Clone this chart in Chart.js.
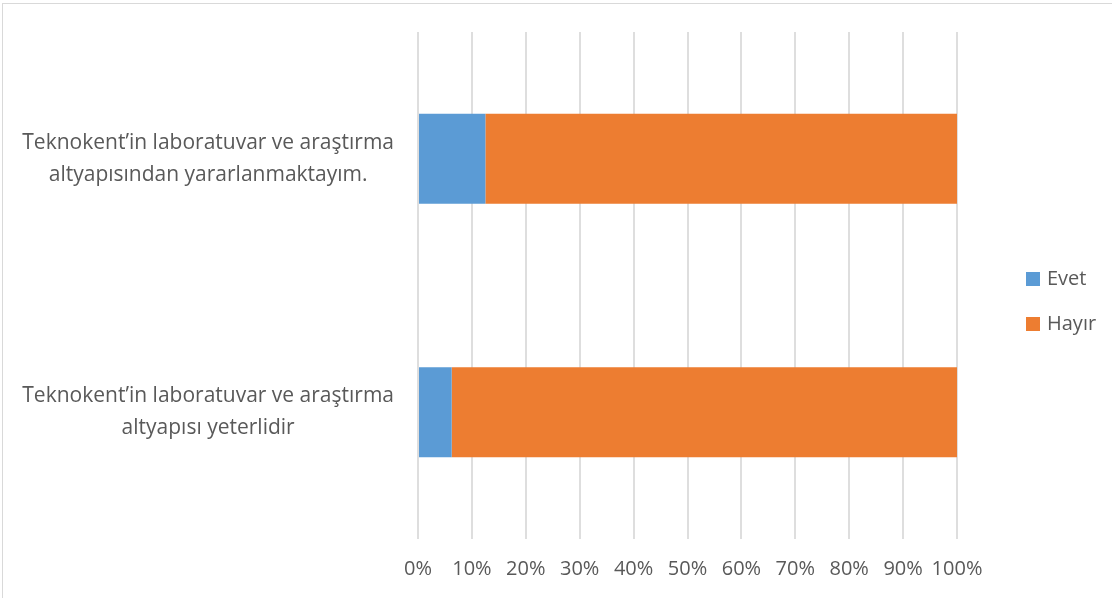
<!DOCTYPE html>
<html>
<head>
<meta charset="utf-8">
<script src="https://cdn.jsdelivr.net/npm/chart.js@4.4.0/dist/chart.umd.min.js"></script>
<style>
  body { margin: 0; background: #fff; }
  #wrap { position: relative; width: 1112px; height: 598px; overflow: hidden; }
  #frame { position: absolute; left: 2px; top: 3px; width: 1200px; height: 700px; border: 1px solid #d9d9d9; box-sizing: border-box; }
  #legend { position: absolute; left: 1026px; top: 264px; font-family: "Open Sans", sans-serif; font-size: 20px; color: #595959; }
  .item { height: 45px; display: flex; align-items: flex-start; }
  .sw { width: 14px; height: 14px; margin-top: 8px; margin-right: 7px; }
</style>
</head>
<body>
<div id="wrap">
  <div id="frame"></div>
  <canvas id="chart" width="1112" height="598"></canvas>
  <div id="legend"></div>
</div>
<script>
var categories = [
    ["Teknokent\u2019in laboratuvar ve araştırma", "altyapısından yararlanmaktayım."],
    ["Teknokent\u2019in laboratuvar ve araştırma", "altyapısı yeterlidir"]
];
var seriesNames = ["Evet", "Hayır"];
var evetValues = [12.5, 6.25];
var hayirValues = [87.5, 93.75];
var colors = ["#5B9BD5", "#ED7D31"];

var legendDiv = document.getElementById("legend");
seriesNames.forEach(function(name, i) {
    var item = document.createElement("div");
    item.className = "item";
    item.innerHTML = '<span class="sw" style="background:' + colors[i] + '"></span><span>' + name + '</span>';
    legendDiv.appendChild(item);
});

var textColor = "#595959";
new Chart(document.getElementById("chart"), {
    type: 'bar',
    data: {
        labels: categories,
        datasets: [
            { label: seriesNames[0], data: evetValues, backgroundColor: colors[0] },
            { label: seriesNames[1], data: hayirValues, backgroundColor: colors[1] }
        ]
    },
    options: {
        indexAxis: 'y',
        responsive: false,
        animation: false,
        layout: { padding: { left: 0, top: 32, right: 155, bottom: 0 } },
        datasets: { bar: { barPercentage: 0.9, categoryPercentage: 0.395 } },
        plugins: { legend: { display: false }, tooltip: { enabled: false } },
        scales: {
            x: {
                stacked: true,
                min: 0,
                max: 100,
                ticks: {
                    stepSize: 10,
                    padding: 18,
                    maxRotation: 0,
                    autoSkip: false,
                    color: textColor,
                    font: { family: 'Open Sans', size: 20 },
                    callback: function(v) { return v + '%'; }
                },
                grid: { color: '#dedede', lineWidth: 2, drawTicks: false },
                border: { display: false },
                afterFit: function(scale) {
                    scale.height = 59;
                    scale.paddingLeft = 0;
                    scale.paddingRight = 0;
                }
            },
            y: {
                stacked: true,
                ticks: {
                    crossAlign: 'center',
                    padding: 24,
                    color: textColor,
                    font: { family: 'Open Sans', size: 21, lineHeight: '32px' }
                },
                grid: { display: false, drawTicks: false },
                border: { display: false },
                afterFit: function(scale) {
                    scale.width = 418;
                    scale.paddingTop = 0;
                    scale.paddingBottom = 0;
                }
            }
        }
    }
});
</script>
</body>
</html>
